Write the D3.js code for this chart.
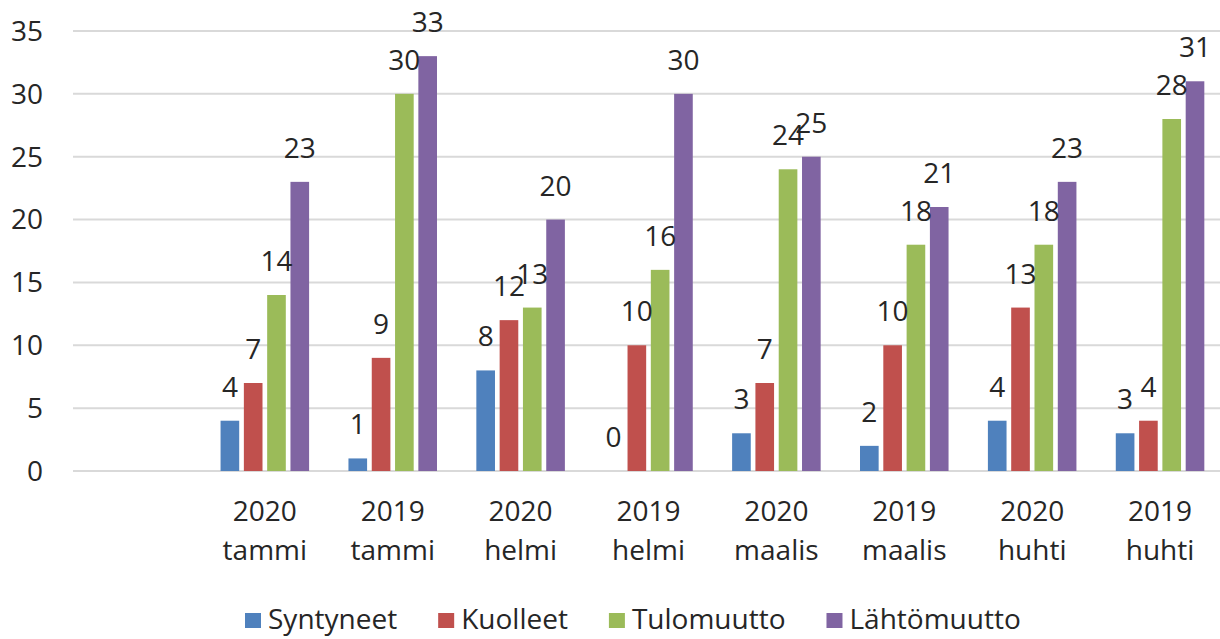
<!DOCTYPE html>
<html>
<head>
<meta charset="utf-8">
<script src="https://cdn.jsdelivr.net/npm/d3@7"></script>
<style>
  body { margin: 0; background: white; }
  text { font-family: "Open Sans", sans-serif; fill: #262626; }
</style>
</head>
<body>
<div id="chart"></div>
<script>
// categories (first slot is an empty category, as in the original sheet)
const years = ["", "2020", "2019", "2020", "2019", "2020", "2019", "2020", "2019"]
const months = ["", "tammi", "tammi", "helmi", "helmi", "maalis", "maalis", "huhti", "huhti"]

const seriesNames = ["Syntyneet", "Kuolleet", "Tulomuutto", "Lähtömuutto"]
const seriesColors = ["#4F81BD", "#C0504D", "#9BBB59", "#8064A2"]

const syntyneet = [null, 4, 1, 8, 0, 3, 2, 4, 3]
const kuolleet = [null, 7, 9, 12, 10, 7, 10, 13, 4]
const tulomuutto = [null, 14, 30, 13, 16, 24, 18, 18, 28]
const lahtomuutto = [null, 23, 33, 20, 30, 25, 21, 23, 31]

const yTicks = [0, 5, 10, 15, 20, 25, 30, 35]

const allSeries = [syntyneet, kuolleet, tulomuutto, lahtomuutto]

const width = 1220, height = 639
const plotLeft = 73, plotRight = 1224, plotTop = 31, plotBottom = 471

const svg = d3.select("#chart").append("svg")
    .attr("width", width)
    .attr("height", height)

const x0 = d3.scaleBand()
    .domain(d3.range(years.length))
    .range([plotLeft, plotRight])

const groupW = 93.2
const x1 = d3.scaleBand()
    .domain(d3.range(seriesNames.length))
    .range([-groupW / 2, groupW / 2])
    .paddingInner(0.2)
    .paddingOuter(0.1)

const y = d3.scaleLinear()
    .domain([0, 35])
    .range([plotBottom, plotTop])

// gridlines
svg.append("g").selectAll("line")
    .data(yTicks)
    .join("line")
    .attr("x1", plotLeft)
    .attr("x2", plotRight)
    .attr("y1", d => y(d))
    .attr("y2", d => y(d))
    .attr("stroke", "#d9d9d9")
    .attr("stroke-width", 2)

// y axis labels
svg.append("g").selectAll("text")
    .data(yTicks)
    .join("text")
    .attr("x", 43)
    .attr("y", d => y(d))
    .attr("dy", "0.35em")
    .attr("text-anchor", "end")
    .style("font-size", "28px")
    .text(d => d)

// flatten bar data
let bars = []
for (let i = 0; i < years.length; i++) {
    for (let s = 0; s < allSeries.length; s++) {
        let v = allSeries[s][i]
        if (v !== null) bars.push({ cat: i, s: s, v: v })
    }
}

svg.append("g").selectAll("rect")
    .data(bars)
    .join("rect")
    .attr("x", d => x0(d.cat) + x0.bandwidth() / 2 + x1(d.s))
    .attr("width", x1.bandwidth())
    .attr("y", d => y(d.v))
    .attr("height", d => y(0) - y(d.v))
    .attr("fill", d => seriesColors[d.s])

// value labels
svg.append("g").selectAll("text")
    .data(bars)
    .join("text")
    .attr("x", d => x0(d.cat) + x0.bandwidth() / 2 + x1(d.s) + x1.bandwidth() / 2)
    .attr("y", d => y(d.v) - 24)
    .attr("text-anchor", "middle")
    .style("font-size", "28px")
    .text(d => d.v)

// category labels (two lines)
const catG = svg.append("g").selectAll("g")
    .data(d3.range(years.length))
    .join("g")
    .attr("transform", d => `translate(${x0(d) + x0.bandwidth() / 2},0)`)

catG.append("text")
    .attr("y", 521)
    .attr("text-anchor", "middle")
    .style("font-size", "28px")
    .text(d => years[d])

catG.append("text")
    .attr("y", 560)
    .attr("text-anchor", "middle")
    .style("font-size", "28px")
    .text(d => months[d])

// legend
const legend = svg.append("g")
let lx = 245
seriesNames.forEach((name, i) => {
    legend.append("rect")
        .attr("x", lx)
        .attr("y", 613)
        .attr("width", 16)
        .attr("height", 15)
        .attr("fill", seriesColors[i])
    let t = legend.append("text")
        .attr("x", lx + 23)
        .attr("y", 629)
        .style("font-size", "28px")
        .text(name)
    lx = lx + 23 + t.node().getComputedTextLength() + 41
})
</script>
</body>
</html>
